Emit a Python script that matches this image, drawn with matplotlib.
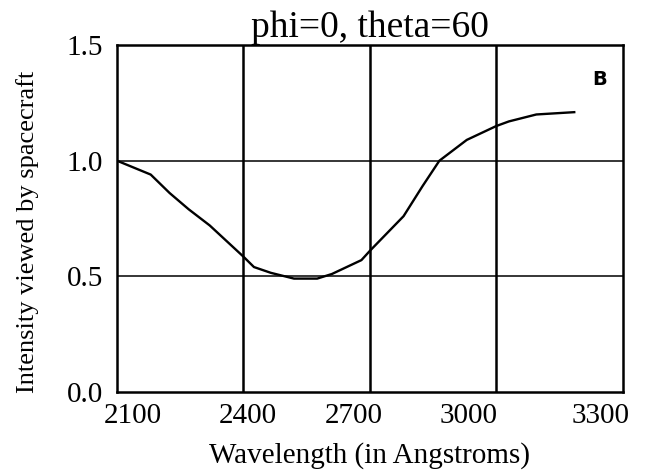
import matplotlib
matplotlib.use("Agg")
import matplotlib.pyplot as plt
from matplotlib.transforms import ScaledTranslation

wavelength = [2100, 2180, 2225, 2270, 2320, 2400, 2425, 2465, 2520, 2575, 2610, 2680, 2700,
              2780, 2825, 2865, 2930, 3000, 3030, 3095, 3185]
intensity = [1.00, 0.94, 0.86, 0.79, 0.72, 0.585, 0.54, 0.515, 0.49, 0.49, 0.51, 0.57, 0.61,
             0.76, 0.89, 1.00, 1.09, 1.15, 1.17, 1.20, 1.21]
x_ticks = [2100, 2400, 2700, 3000, 3300]
y_ticks = [0.0, 0.5, 1.0, 1.5]
y_tick_labels = ["0.0", "0.5", "1.0", "1.5"]

plt.rcParams['font.family'] = ['Liberation Serif', 'DejaVu Serif']

fig = plt.figure(figsize=(6.5, 4.75), dpi=100)
ax = fig.add_axes([0.18, 0.175, 0.778, 0.73])

for xv in x_ticks[1:-1]:
    ax.axvline(xv, color='black', lw=1.8, zorder=1)
for yv in y_ticks[1:-1]:
    ax.axhline(yv, color='black', lw=1.1, zorder=1)

ax.plot(wavelength, intensity, color='black', lw=1.7, zorder=2)

ax.set_xlim(2100, 3300)
ax.set_ylim(0.0, 1.5)
ax.set_xticks(x_ticks)
ax.set_xticklabels([str(v) for v in x_ticks])
ax.set_yticks(y_ticks)
ax.set_yticklabels(y_tick_labels)
ax.tick_params(length=0, labelsize=21)
ax.tick_params(axis='x', pad=8)
ax.tick_params(axis='y', pad=10)
for s in ax.spines.values():
    s.set_linewidth(1.8)

# the scanned labels sit slightly off their gridlines
x_offsets_px = [16, 4, -16, -28, -22]
for lbl, dx in zip(ax.get_xticklabels(), x_offsets_px):
    lbl.set_transform(lbl.get_transform() + ScaledTranslation(dx / 100, 0, fig.dpi_scale_trans))

ax.set_title("phi=0, theta=60", fontsize=27, pad=3)
ax.set_xlabel("Wavelength (in Angstroms)", fontsize=21)
ax.xaxis.set_label_coords(0.5, -0.145)
ax.set_ylabel("Intensity viewed by spacecraft", fontsize=19)
ax.yaxis.set_label_coords(-0.155, 0.46)
ax.text(0.955, 0.9, "B", transform=ax.transAxes, ha='center', va='center',
        fontsize=14, fontweight='bold', family='DejaVu Sans')

fig.savefig("out.png", dpi=100)
